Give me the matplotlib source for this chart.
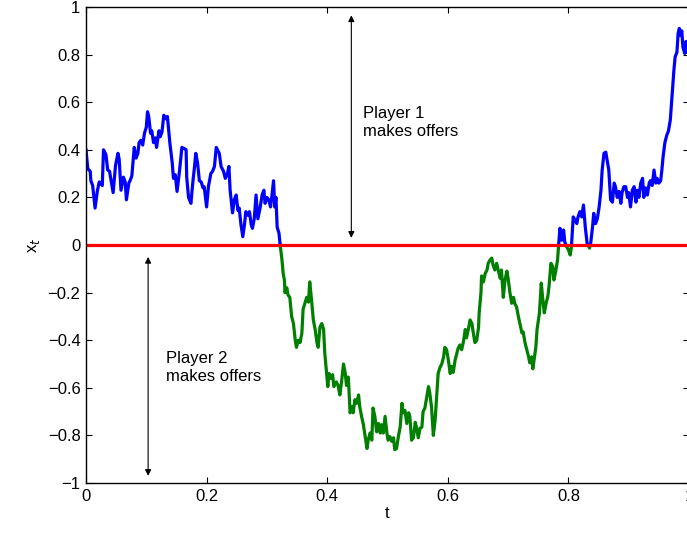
import numpy as np
import matplotlib
matplotlib.use("Agg")
import matplotlib.pyplot as plt

plt.rcParams["font.family"] = ["Liberation Sans", "DejaVu Sans"]

# sample path (t, x_t)
t = [0.000, 0.003, 0.007, 0.008, 0.011, 0.015, 0.019, 0.022, 0.027, 0.029,
     0.033, 0.036, 0.039, 0.041, 0.045, 0.049, 0.053, 0.055, 0.058, 0.062,
     0.065, 0.067, 0.071, 0.073, 0.076, 0.080, 0.083, 0.086, 0.088, 0.091,
     0.094, 0.097, 0.100, 0.102, 0.104, 0.107, 0.109, 0.112, 0.115, 0.117,
     0.121, 0.123, 0.126, 0.129, 0.133, 0.135, 0.139, 0.143, 0.145, 0.148,
     0.151, 0.155, 0.159, 0.163, 0.166, 0.167, 0.170, 0.174, 0.177, 0.180,
     0.182, 0.185, 0.188, 0.191, 0.194, 0.196, 0.200, 0.203, 0.207, 0.210,
     0.213, 0.216, 0.218, 0.221, 0.224, 0.228, 0.231, 0.234, 0.237, 0.239,
     0.243, 0.246, 0.249, 0.252, 0.254, 0.257, 0.260, 0.263, 0.265, 0.268,
     0.271, 0.274, 0.276, 0.279, 0.282, 0.285, 0.289, 0.292, 0.295, 0.297,
     0.300, 0.303, 0.306, 0.308, 0.311, 0.313, 0.315, 0.317, 0.320, 0.322,
     0.325, 0.327, 0.329, 0.330, 0.333, 0.335, 0.338, 0.341, 0.344, 0.347,
     0.349, 0.352, 0.355, 0.358, 0.360, 0.363, 0.366, 0.369, 0.371, 0.374,
     0.377, 0.380, 0.383, 0.385, 0.388, 0.391, 0.394, 0.396, 0.399, 0.401,
     0.403, 0.406, 0.409, 0.411, 0.415, 0.418, 0.421, 0.424, 0.427, 0.430,
     0.432, 0.435, 0.438, 0.441, 0.443, 0.446, 0.449, 0.452, 0.454, 0.457,
     0.460, 0.463, 0.466, 0.468, 0.471, 0.474, 0.476, 0.479, 0.482, 0.485,
     0.488, 0.490, 0.493, 0.496, 0.499, 0.501, 0.504, 0.507, 0.510, 0.512,
     0.515, 0.518, 0.521, 0.524, 0.526, 0.529, 0.532, 0.535, 0.537, 0.540,
     0.543, 0.546, 0.548, 0.551, 0.554, 0.557, 0.559, 0.562, 0.565, 0.568,
     0.570, 0.573, 0.576, 0.579, 0.582, 0.584, 0.587, 0.590, 0.593, 0.595,
     0.598, 0.601, 0.604, 0.606, 0.609, 0.612, 0.615, 0.617, 0.620, 0.623,
     0.626, 0.629, 0.631, 0.634, 0.637, 0.640, 0.642, 0.645, 0.648, 0.651,
     0.652, 0.655, 0.656, 0.659, 0.662, 0.665, 0.667, 0.670, 0.673, 0.675,
     0.678, 0.681, 0.684, 0.687, 0.689, 0.692, 0.695, 0.698, 0.700, 0.703,
     0.706, 0.709, 0.711, 0.714, 0.717, 0.720, 0.723, 0.725, 0.728, 0.731,
     0.734, 0.736, 0.739, 0.741, 0.743, 0.746, 0.748, 0.752, 0.755, 0.757,
     0.760, 0.763, 0.766, 0.768, 0.771, 0.774, 0.776, 0.779, 0.782, 0.784,
     0.786, 0.789, 0.792, 0.794, 0.797, 0.800, 0.803, 0.805, 0.808, 0.811,
     0.814, 0.816, 0.819, 0.822, 0.825, 0.828, 0.831, 0.835, 0.837, 0.840,
     0.842, 0.845, 0.848, 0.851, 0.854, 0.856, 0.859, 0.862, 0.865, 0.867,
     0.870, 0.873, 0.876, 0.878, 0.881, 0.884, 0.887, 0.889, 0.892, 0.895,
     0.898, 0.900, 0.903, 0.906, 0.909, 0.912, 0.914, 0.917, 0.920, 0.923,
     0.925, 0.928, 0.931, 0.934, 0.936, 0.939, 0.942, 0.945, 0.947, 0.950,
     0.953, 0.955, 0.957, 0.960, 0.963, 0.966, 0.969, 0.971, 0.973, 0.975,
     0.977, 0.980, 0.982, 0.984, 0.986, 0.988, 0.990, 0.993, 0.995, 0.997]

x = [0.40, 0.32, 0.31, 0.27, 0.25, 0.155, 0.23, 0.265, 0.25, 0.40,
     0.38, 0.315, 0.31, 0.28, 0.22, 0.335, 0.385, 0.36, 0.23, 0.285,
     0.265, 0.19, 0.26, 0.27, 0.29, 0.41, 0.365, 0.385, 0.43, 0.44,
     0.42, 0.47, 0.495, 0.56, 0.54, 0.47, 0.48, 0.43, 0.45, 0.41,
     0.48, 0.455, 0.475, 0.545, 0.53, 0.54, 0.43, 0.345, 0.28, 0.295,
     0.225, 0.31, 0.41, 0.405, 0.40, 0.285, 0.20, 0.175, 0.26, 0.33,
     0.385, 0.345, 0.27, 0.265, 0.24, 0.245, 0.16, 0.245, 0.30, 0.31,
     0.33, 0.41, 0.40, 0.385, 0.33, 0.31, 0.28, 0.295, 0.33, 0.23,
     0.135, 0.19, 0.21, 0.145, 0.155, 0.085, 0.035, 0.09, 0.14, 0.125,
     0.14, 0.085, 0.07, 0.11, 0.21, 0.11, 0.16, 0.21, 0.23, 0.175,
     0.20, 0.19, 0.16, 0.20, 0.27, 0.16, 0.20, 0.075, 0.05, 0.0,
     -0.063, -0.12, -0.147, -0.20, -0.18, -0.21, -0.22, -0.30, -0.33, -0.40,
     -0.43, -0.40, -0.41, -0.37, -0.27, -0.245, -0.22, -0.24, -0.155, -0.23,
     -0.315, -0.355, -0.41, -0.43, -0.345, -0.33, -0.355, -0.455, -0.54, -0.595,
     -0.54, -0.56, -0.545, -0.595, -0.575, -0.59, -0.63, -0.57, -0.50, -0.54,
     -0.59, -0.555, -0.705, -0.68, -0.705, -0.65, -0.665, -0.63, -0.68, -0.72,
     -0.755, -0.805, -0.855, -0.82, -0.79, -0.82, -0.685, -0.72, -0.785, -0.75,
     -0.79, -0.755, -0.79, -0.72, -0.79, -0.82, -0.805, -0.825, -0.81, -0.86,
     -0.855, -0.805, -0.765, -0.665, -0.705, -0.695, -0.75, -0.705, -0.72, -0.82,
     -0.81, -0.745, -0.765, -0.81, -0.77, -0.765, -0.70, -0.685, -0.64, -0.595,
     -0.62, -0.68, -0.80, -0.735, -0.62, -0.54, -0.515, -0.50, -0.47, -0.43,
     -0.44, -0.485, -0.54, -0.51, -0.535, -0.485, -0.455, -0.435, -0.42, -0.44,
     -0.405, -0.355, -0.39, -0.355, -0.315, -0.33, -0.365, -0.41, -0.40, -0.345,
     -0.285, -0.20, -0.13, -0.155, -0.12, -0.105, -0.077, -0.063, -0.055, -0.084,
     -0.105, -0.077, -0.11, -0.14, -0.105, -0.22, -0.147, -0.11, -0.14, -0.20,
     -0.245, -0.22, -0.245, -0.26, -0.30, -0.335, -0.37, -0.365, -0.41, -0.44,
     -0.47, -0.495, -0.47, -0.52, -0.485, -0.43, -0.355, -0.285, -0.16, -0.215,
     -0.285, -0.245, -0.215, -0.17, -0.077, -0.09, -0.147, -0.11, -0.063, 0.007,
     0.07, 0.02, 0.063, 0.013, -0.008, -0.02, -0.042, -0.008, 0.118, 0.105,
     0.09, 0.118, 0.14, 0.118, 0.168, 0.075, 0.008, -0.013, 0.008, 0.075,
     0.133, 0.09, 0.11, 0.16, 0.23, 0.315, 0.385, 0.39, 0.345, 0.315,
     0.19, 0.18, 0.26, 0.245, 0.20, 0.225, 0.175, 0.22, 0.245, 0.245,
     0.20, 0.22, 0.16, 0.23, 0.245, 0.18, 0.23, 0.20, 0.26, 0.28,
     0.20, 0.24, 0.21, 0.26, 0.27, 0.25, 0.315, 0.26, 0.28, 0.26,
     0.27, 0.315, 0.37, 0.43, 0.46, 0.48, 0.525, 0.595, 0.665, 0.735,
     0.79, 0.81, 0.89, 0.91, 0.88, 0.90, 0.83, 0.805, 0.855, 0.81]

x_ticks = [0, 0.2, 0.4, 0.6, 0.8, 1.0]
x_tick_labels = ["0", "0.2", "0.4", "0.6", "0.8", "1"]
y_ticks = [-1, -0.8, -0.6, -0.4, -0.2, 0, 0.2, 0.4, 0.6, 0.8, 1]
y_tick_labels = ["\u22121", "\u22120.8", "\u22120.6", "\u22120.4", "\u22120.2",
                 "0", "0.2", "0.4", "0.6", "0.8", "1"]


def split_at_zero(tt, xx):
    """Insert the zero crossings so both coloured halves meet on the axis."""
    ts, xs = [tt[0]], [xx[0]]
    for i in range(1, len(tt)):
        a, b = xx[i - 1], xx[i]
        if a * b < 0:
            tc = tt[i - 1] + (tt[i] - tt[i - 1]) * a / (a - b)
            ts.append(tc)
            xs.append(0.0)
        ts.append(tt[i])
        xs.append(xx[i])
    ts, xs = np.array(ts), np.array(xs)
    pos = np.where(xs >= 0, xs, np.nan)
    neg = np.where(xs <= 0, xs, np.nan)
    return ts, pos, neg


fig = plt.figure(figsize=(6.87, 5.33), dpi=100)
ax = fig.add_axes([0.1252, 0.0938, 0.8777, 0.8931])

ts, pos, neg = split_at_zero(t, x)
ax.plot(ts, neg, color="#007f00", lw=2.3, solid_joinstyle="round")
ax.plot(ts, pos, color="#0000ff", lw=2.3, solid_joinstyle="round")
ax.axhline(0, color="#ff0000", lw=2.3)

arrow = dict(arrowstyle="<|-|>", color="black", lw=0.8,
             mutation_scale=9, shrinkA=0, shrinkB=0)
ax.annotate("", xy=(0.44, 0.965), xytext=(0.44, 0.03), arrowprops=arrow)
ax.annotate("", xy=(0.103, -0.05), xytext=(0.103, -0.97), arrowprops=arrow)
ax.text(0.459, 0.515, "Player 1\nmakes offers", fontsize=12,
        ha="left", va="center", linespacing=1.25)
ax.text(0.133, -0.515, "Player 2\nmakes offers", fontsize=12,
        ha="left", va="center", linespacing=1.25)

ax.set_xlim(0, 1)
ax.set_ylim(-1, 1)
ax.set_xticks(x_ticks)
ax.set_xticklabels(x_tick_labels)
ax.set_yticks(y_ticks)
ax.set_yticklabels(y_tick_labels)
ax.tick_params(direction="in", length=4, width=0.8, labelsize=12,
               top=True, right=True, pad=4)
for s in ax.spines.values():
    s.set_linewidth(1.0)
ax.set_xlabel("t", fontsize=12, labelpad=2)
ax.set_ylabel("x$_t$", fontsize=12, labelpad=4)

fig.savefig("out.png", dpi=100)
